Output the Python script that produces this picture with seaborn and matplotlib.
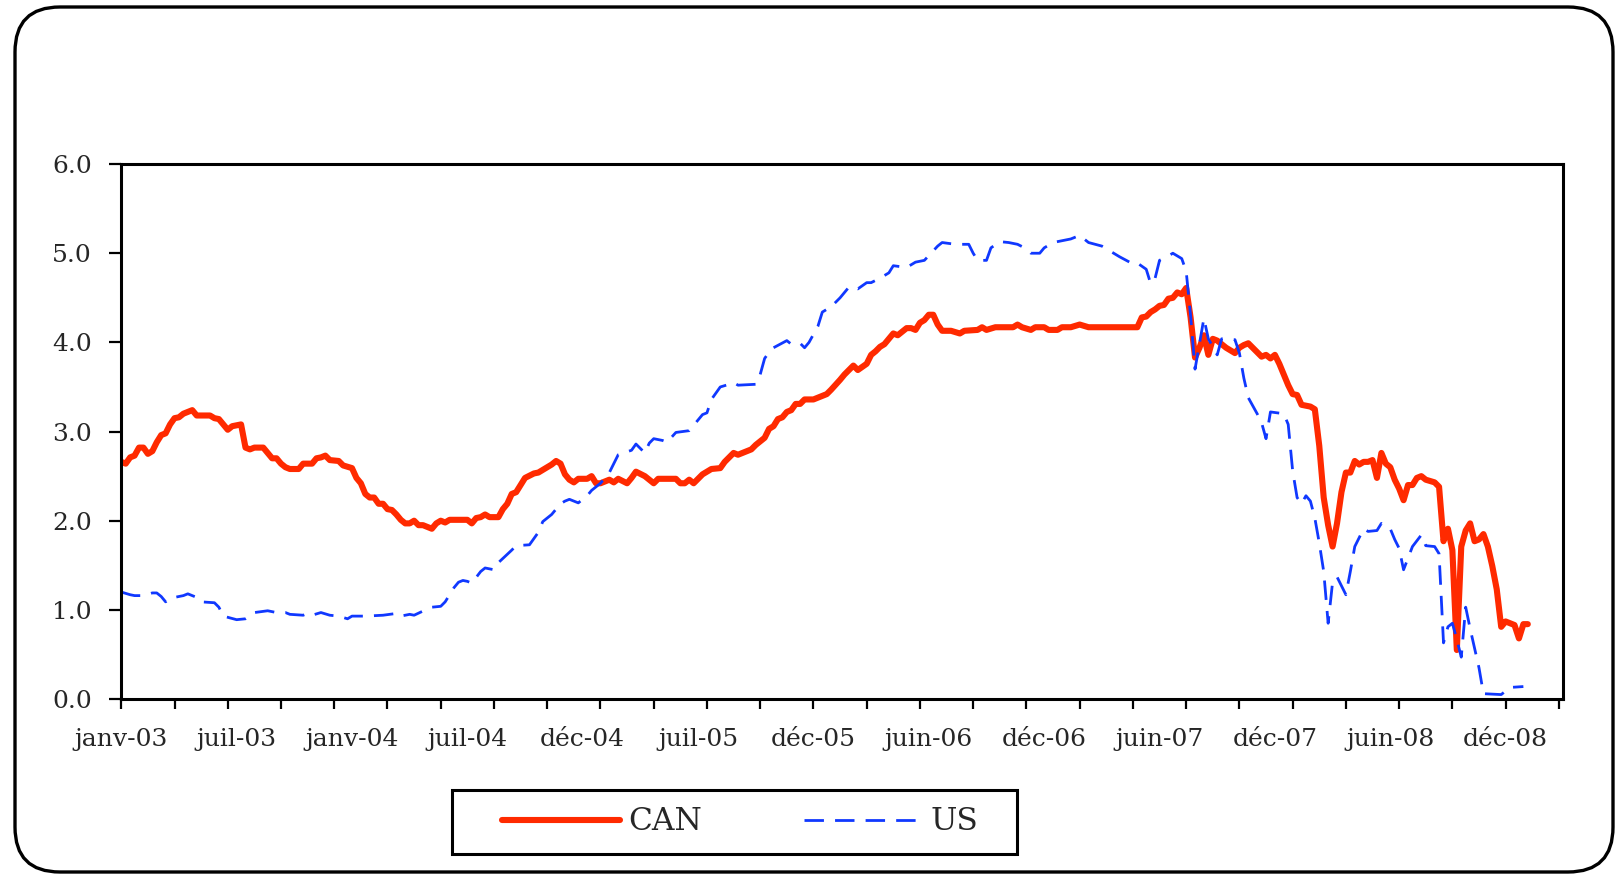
import matplotlib
matplotlib.use("Agg")
import matplotlib.pyplot as plt
import seaborn as sns
import pandas as pd
from matplotlib.patches import FancyBboxPatch, Rectangle

# weekly observations, week 0 = first week of January 2003
can_week = [0, 1, 2, 3, 4, 5, 6, 7, 8, 9,
            10, 11, 12, 13, 14, 16, 17, 20, 21, 22,
            23, 24, 25, 27, 28, 29, 30, 32, 33, 34,
            35, 36, 37, 38, 40, 41, 43, 44, 45, 46,
            47, 49, 50, 52, 53, 54, 55, 56, 57, 58,
            59, 60, 61, 62, 63, 64, 65, 66, 67, 68,
            70, 71, 72, 73, 74, 78, 79, 80, 81, 82,
            83, 85, 86, 87, 88, 89, 90, 91, 93, 94,
            96, 97, 98, 99, 100, 101, 102, 103, 105, 106,
            107, 108, 110, 111, 112, 114, 115, 116, 118, 120,
            121, 125, 126, 127, 128, 129, 131, 132, 133, 135,
            136, 138, 139, 140, 142, 143, 145, 146, 147, 148,
            149, 150, 151, 152, 153, 154, 156, 158, 159, 160,
            162, 163, 165, 166, 168, 169, 170, 171, 172, 173,
            174, 175, 177, 178, 179, 180, 181, 182, 183, 184,
            185, 187, 189, 190, 193, 194, 195, 197, 201, 202,
            203, 205, 206, 208, 209, 211, 212, 214, 216, 218,
            229, 230, 231, 232, 233, 234, 235, 236, 237, 238,
            239, 240, 241, 242, 243, 244, 245, 246, 247, 248,
            249, 251, 252, 253, 254, 255, 257, 258, 259, 260,
            261, 262, 263, 264, 265, 266, 268, 269, 270, 271,
            272, 273, 274, 275, 276, 277, 278, 279, 280, 281,
            282, 283, 284, 285, 286, 287, 288, 289, 290, 291,
            292, 293, 294, 296, 297, 298, 299, 300, 301, 302,
            303, 304, 305, 306, 307, 308, 309, 310, 311, 312,
            314, 315, 316, 317]
can_rate = [2.66, 2.64, 2.71, 2.73, 2.82, 2.82, 2.75, 2.78, 2.88, 2.96,
            2.98, 3.08, 3.15, 3.16, 3.20, 3.24, 3.18, 3.18, 3.15, 3.14,
            3.08, 3.02, 3.06, 3.08, 2.82, 2.80, 2.82, 2.82, 2.76, 2.70,
            2.70, 2.64, 2.60, 2.58, 2.58, 2.64, 2.64, 2.70, 2.71, 2.73,
            2.68, 2.67, 2.62, 2.59, 2.48, 2.42, 2.30, 2.26, 2.26, 2.19,
            2.19, 2.13, 2.12, 2.07, 2.01, 1.97, 1.97, 2.00, 1.95, 1.95,
            1.91, 1.97, 2.00, 1.98, 2.01, 2.01, 1.97, 2.03, 2.04, 2.07,
            2.04, 2.04, 2.13, 2.19, 2.30, 2.32, 2.40, 2.48, 2.53, 2.54,
            2.60, 2.63, 2.67, 2.64, 2.52, 2.46, 2.43, 2.47, 2.47, 2.50,
            2.42, 2.42, 2.46, 2.43, 2.47, 2.42, 2.48, 2.55, 2.50, 2.42,
            2.47, 2.47, 2.42, 2.42, 2.46, 2.42, 2.52, 2.55, 2.58, 2.59,
            2.66, 2.76, 2.74, 2.76, 2.80, 2.85, 2.93, 3.03, 3.06, 3.14,
            3.16, 3.22, 3.24, 3.31, 3.31, 3.36, 3.36, 3.40, 3.42, 3.47,
            3.58, 3.64, 3.74, 3.69, 3.76, 3.86, 3.90, 3.95, 3.98, 4.04,
            4.10, 4.08, 4.16, 4.16, 4.14, 4.22, 4.25, 4.31, 4.31, 4.20,
            4.13, 4.13, 4.10, 4.13, 4.14, 4.17, 4.14, 4.17, 4.17, 4.20,
            4.17, 4.14, 4.17, 4.17, 4.14, 4.14, 4.17, 4.17, 4.20, 4.17,
            4.17, 4.28, 4.29, 4.34, 4.37, 4.41, 4.42, 4.49, 4.50, 4.56,
            4.54, 4.61, 4.28, 3.83, 3.94, 4.08, 3.86, 4.04, 4.02, 3.98,
            3.94, 3.88, 3.94, 3.97, 3.99, 3.94, 3.84, 3.86, 3.82, 3.86,
            3.76, 3.64, 3.52, 3.42, 3.41, 3.30, 3.28, 3.25, 2.84, 2.26,
            1.95, 1.71, 1.97, 2.32, 2.54, 2.54, 2.67, 2.63, 2.66, 2.66,
            2.68, 2.48, 2.76, 2.64, 2.60, 2.46, 2.36, 2.23, 2.40, 2.40,
            2.48, 2.50, 2.46, 2.43, 2.38, 1.77, 1.91, 1.67, 0.55, 1.71,
            1.89, 1.97, 1.77, 1.79, 1.85, 1.71, 1.49, 1.23, 0.81, 0.87,
            0.83, 0.68, 0.84, 0.84]

us_week = [0, 2, 3, 5, 7, 8, 9, 10, 11, 14,
           15, 17, 18, 21, 22, 23, 26, 28, 29, 30,
           33, 35, 37, 38, 41, 42, 43, 45, 47, 49,
           51, 52, 55, 59, 62, 63, 65, 66, 69, 70,
           72, 73, 75, 76, 77, 78, 79, 81, 82, 84,
           85, 88, 89, 92, 94, 95, 97, 99, 100, 101,
           103, 105, 106, 108, 110, 112, 115, 116, 118, 119,
           120, 122, 123, 125, 128, 131, 132, 133, 135, 137,
           138, 139, 143, 144, 145, 146, 147, 150, 151, 153,
           154, 155, 157, 158, 160, 162, 164, 165, 166, 168,
           169, 171, 173, 174, 177, 179, 181, 184, 185, 188,
           191, 192, 193, 195, 196, 198, 200, 202, 204, 205,
           207, 208, 210, 214, 216, 218, 221, 223, 225, 228,
           229, 231, 232, 233, 234, 236, 237, 239, 240, 241,
           242, 244, 245, 247, 248, 251, 252, 253, 254, 256,
           257, 258, 259, 262, 263, 264, 265, 266, 267, 268,
           269, 270, 271, 272, 273, 274, 276, 277, 278, 280,
           281, 283, 284, 286, 287, 288, 289, 291, 293, 294,
           296, 297, 298, 299, 300, 301, 302, 303, 304, 305,
           306, 307, 311, 313, 316]
us_rate = [1.20, 1.17, 1.16, 1.16, 1.19, 1.19, 1.15, 1.09, 1.13, 1.16,
           1.18, 1.14, 1.09, 1.08, 1.03, 0.93, 0.89, 0.90, 0.93, 0.97,
           0.99, 0.97, 0.97, 0.95, 0.94, 0.96, 0.94, 0.97, 0.94, 0.93,
           0.90, 0.93, 0.93, 0.94, 0.96, 0.93, 0.95, 0.94, 1.01, 1.03,
           1.04, 1.09, 1.25, 1.31, 1.33, 1.32, 1.30, 1.43, 1.47, 1.45,
           1.53, 1.67, 1.72, 1.73, 1.87, 1.99, 2.07, 2.19, 2.22, 2.24,
           2.20, 2.28, 2.34, 2.42, 2.54, 2.74, 2.79, 2.86, 2.76, 2.87,
           2.92, 2.90, 2.88, 2.99, 3.01, 3.19, 3.21, 3.36, 3.50, 3.53,
           3.55, 3.52, 3.53, 3.64, 3.82, 3.89, 3.94, 4.02, 3.98, 3.99,
           3.94, 4.00, 4.18, 4.34, 4.40, 4.50, 4.62, 4.62, 4.60, 4.67,
           4.67, 4.72, 4.78, 4.86, 4.84, 4.90, 4.92, 5.08, 5.12, 5.10,
           5.10, 5.00, 4.92, 4.92, 5.06, 5.13, 5.12, 5.10, 5.05, 5.00,
           5.00, 5.06, 5.12, 5.16, 5.20, 5.12, 5.08, 5.02, 4.96, 4.88,
           4.89, 4.82, 4.66, 4.72, 4.92, 4.97, 5.00, 4.94, 4.80, 4.30,
           3.70, 4.27, 4.04, 3.86, 4.04, 4.03, 3.88, 3.60, 3.38, 3.20,
           3.10, 2.92, 3.22, 3.20, 3.08, 2.56, 2.26, 2.19, 2.28, 2.22,
           2.03, 1.75, 1.43, 0.85, 1.31, 1.37, 1.17, 1.43, 1.71, 1.91,
           1.88, 1.89, 1.97, 1.91, 1.79, 1.69, 1.45, 1.71, 1.84, 1.72,
           1.71, 1.63, 0.63, 0.81, 0.85, 0.67, 0.47, 1.03, 0.79, 0.57,
           0.35, 0.06, 0.05, 0.13, 0.14]

# a label every 26 weeks, a tick mark every 12 weeks
label_weeks = [0, 26, 52, 78, 104, 130, 156, 182, 208, 234, 260, 286, 312]
label_text = ["janv-03", "juil-03", "janv-04", "juil-04", "déc-04", "juil-05", "déc-05",
              "juin-06", "déc-06", "juin-07", "déc-07", "juin-08", "déc-08"]
tick_weeks = list(range(0, 325, 12))
y_ticks = [0, 1, 2, 3, 4, 5, 6]

sns.set_style("white")
plt.rcParams["font.family"] = ["DejaVu Serif"]
plt.rcParams["lines.scale_dashes"] = False

fig = plt.figure(figsize=(16.19, 8.75), dpi=100)
ax = fig.add_axes([0.0749, 0.2011, 0.8907, 0.6114])

can = pd.DataFrame({"week": can_week, "rate": can_rate})
us = pd.DataFrame({"week": us_week, "rate": us_rate})

sns.lineplot(data=can, x="week", y="rate", color="#FF2A00", linewidth=4.4, label="CAN", ax=ax)
sns.lineplot(data=us, x="week", y="rate", color="#1038FF", linewidth=2.0, label="US", ax=ax)
ax.lines[1].set_dashes((14, 8))

ax.set_xlim(0, 325)
ax.set_ylim(0, 6)
ax.set_xlabel("")
ax.set_ylabel("")

# keep labels that sit on a tick mark position
ax.xaxis.remove_overlapping_locs = False
ax.set_xticks(tick_weeks)
ax.set_xticklabels([])
ax.set_xticks(label_weeks, minor=True)
ax.set_xticklabels(label_text, minor=True, fontsize=18)
ax.tick_params(axis="x", which="major", direction="out", length=7.5, width=1.6, color="black", bottom=True)
ax.tick_params(axis="x", which="minor", length=0, pad=21, bottom=True)

ax.set_yticks(y_ticks)
ax.set_yticklabels([f"{v:.1f}" for v in y_ticks], fontsize=18)
ax.tick_params(axis="y", direction="out", length=9, width=1.6, color="black", pad=12, left=True)

for s in ax.spines.values():
    s.set_color("black")
    s.set_linewidth(2.2)

handles, labels = ax.get_legend_handles_labels()
ax.legend(handles, labels, loc="center", bbox_to_anchor=(740 / 1619, 53 / 875),
          bbox_transform=fig.transFigure, ncol=2, frameon=False, fontsize=22.5,
          handlelength=3.78, handletextpad=0.26, columnspacing=3.26)

# legend frame
fig.add_artist(Rectangle((452 / 1619, 21 / 875), 565 / 1619, 64 / 875, transform=fig.transFigure,
                         fill=False, edgecolor="black", linewidth=2.2))

# rounded outer border
fig.add_artist(FancyBboxPatch((0.15, 0.03), 15.98, 8.65, boxstyle="round,pad=0,rounding_size=0.45",
                              transform=fig.dpi_scale_trans, fill=False, edgecolor="black", linewidth=2.4))

fig.savefig("out.png", dpi=100)
